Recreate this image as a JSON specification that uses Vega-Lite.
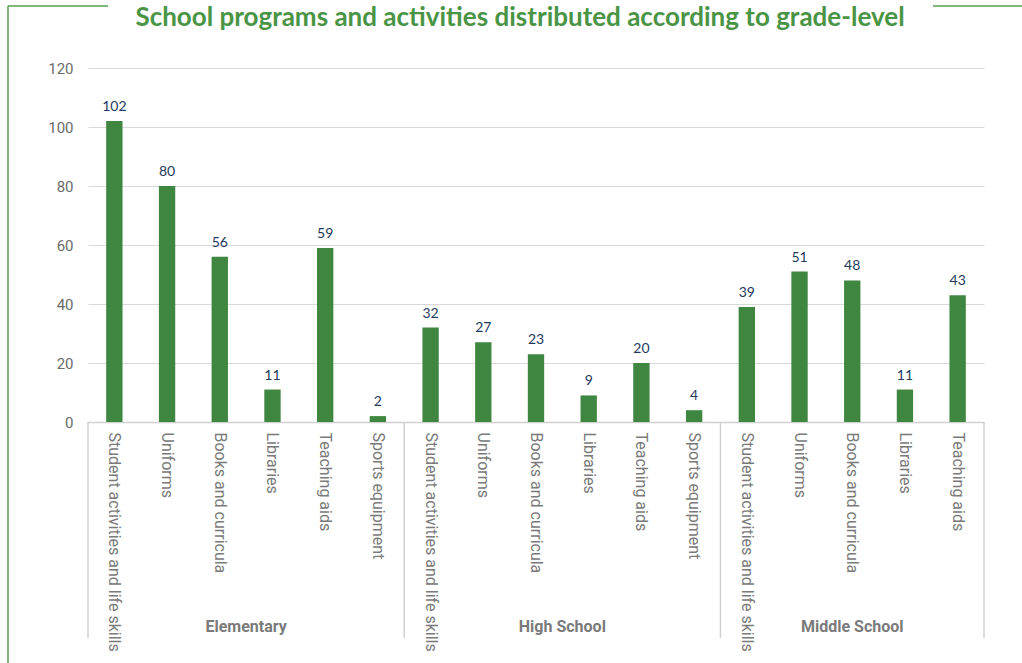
{
  "$schema": "https://vega.github.io/schema/vega-lite/v6.json",
  "autosize": {"type": "none"},
  "padding": {"left": 88, "top": 68, "right": 38, "bottom": 241},
  "width": 896,
  "height": 354,
  "title": {
    "text": "School programs and activities distributed according to grade-level",
    "font": "Lato",
    "fontSize": 26,
    "fontWeight": "bold",
    "color": "#4a9446",
    "anchor": "middle",
    "frame": "group",
    "baseline": "alphabetic",
    "dx": -16,
    "offset": -47
  },
  "config": {
    "view": {"stroke": null},
    "font": "Roboto"
  },
  "datasets": {
    "bars": [
      {"key": "Elementary|Student activities and life skills", "value": 102},
      {"key": "Elementary|Uniforms", "value": 80},
      {"key": "Elementary|Books and curricula", "value": 56},
      {"key": "Elementary|Libraries", "value": 11},
      {"key": "Elementary|Teaching aids", "value": 59},
      {"key": "Elementary|Sports equipment", "value": 2},
      {"key": "High School|Student activities and life skills", "value": 32},
      {"key": "High School|Uniforms", "value": 27},
      {"key": "High School|Books and curricula", "value": 23},
      {"key": "High School|Libraries", "value": 9},
      {"key": "High School|Teaching aids", "value": 20},
      {"key": "High School|Sports equipment", "value": 4},
      {"key": "Middle School|Student activities and life skills", "value": 39},
      {"key": "Middle School|Uniforms", "value": 51},
      {"key": "Middle School|Books and curricula", "value": 48},
      {"key": "Middle School|Libraries", "value": 11},
      {"key": "Middle School|Teaching aids", "value": 43}
    ],
    "groups6": [
      {"group": "Elementary", "key": "Elementary|Libraries"},
      {"group": "High School", "key": "High School|Libraries"}
    ],
    "groups5": [
      {"group": "Middle School", "key": "Middle School|Books and curricula"}
    ],
    "sepLeft": [
      {"key": "Elementary|Student activities and life skills"},
      {"key": "High School|Student activities and life skills"},
      {"key": "Middle School|Student activities and life skills"}
    ],
    "sepRight": [
      {"key": "Middle School|Teaching aids"}
    ],
    "frame": [
      {"part": "frame"}
    ]
  },
  "layer": [
    {
      "data": {"name": "bars"},
      "mark": {"type": "bar", "color": "#3f8640", "width": {"band": 0.31}},
      "encoding": {
        "x": {
          "field": "key",
          "type": "nominal",
          "sort": null,
          "scale": {"paddingInner": 0, "paddingOuter": 0},
          "axis": {
            "title": null,
            "labelExpr": "split(datum.label, '|')[1]",
            "labelAngle": 90,
            "labelFont": "Roboto",
            "labelFontSize": 16,
            "labelColor": "#7a7a7a",
            "labelPadding": 10,
            "labelLimit": 400,
            "ticks": false,
            "domainColor": "#d0d0d0",
            "domainWidth": 1.5
          }
        },
        "y": {
          "field": "value",
          "type": "quantitative",
          "scale": {"domain": [0, 120], "nice": false},
          "axis": {
            "title": null,
            "values": [0, 20, 40, 60, 80, 100, 120],
            "domain": false,
            "ticks": false,
            "labelPadding": 15,
            "labelFont": "Roboto",
            "labelFontSize": 15,
            "labelColor": "#6b6b6b",
            "gridColor": "#d9d9d9",
            "gridWidth": 1
          }
        }
      }
    },
    {
      "data": {"name": "bars"},
      "mark": {"type": "text", "font": "Lato", "fontSize": 14, "color": "#1f3a5c", "baseline": "bottom", "dy": -7},
      "encoding": {
        "x": {"field": "key", "type": "nominal", "sort": null},
        "y": {"field": "value", "type": "quantitative"},
        "text": {"field": "value", "type": "quantitative"}
      }
    },
    {
      "data": {"name": "groups6"},
      "mark": {"type": "text", "font": "Roboto", "fontSize": 16, "fontWeight": "bold", "color": "#7a7a7a", "baseline": "middle"},
      "encoding": {
        "x": {"field": "key", "type": "nominal", "sort": null, "bandPosition": 0},
        "y": {"datum": -69.5, "type": "quantitative"},
        "text": {"field": "group"}
      }
    },
    {
      "data": {"name": "groups5"},
      "mark": {"type": "text", "font": "Roboto", "fontSize": 16, "fontWeight": "bold", "color": "#7a7a7a", "baseline": "middle"},
      "encoding": {
        "x": {"field": "key", "type": "nominal", "sort": null, "bandPosition": 0.5},
        "y": {"datum": -69.5, "type": "quantitative"},
        "text": {"field": "group"}
      }
    },
    {
      "data": {"name": "sepLeft"},
      "mark": {"type": "rule", "color": "#d0d0d0", "strokeWidth": 1.5},
      "encoding": {
        "x": {"field": "key", "type": "nominal", "sort": null, "bandPosition": 0},
        "y": {"datum": 0, "type": "quantitative"},
        "y2": {"datum": -73.2}
      }
    },
    {
      "data": {"name": "sepRight"},
      "mark": {"type": "rule", "color": "#d0d0d0", "strokeWidth": 1.5},
      "encoding": {
        "x": {"field": "key", "type": "nominal", "sort": null, "bandPosition": 1},
        "y": {"datum": 0, "type": "quantitative"},
        "y2": {"datum": -73.2}
      }
    },
    {
      "data": {"name": "frame"},
      "mark": {"type": "rule", "color": "#5a9e50", "strokeWidth": 1.5},
      "encoding": {
        "x": {"value": -80},
        "y": {"value": -62},
        "y2": {"value": 600}
      }
    },
    {
      "data": {"name": "frame"},
      "mark": {"type": "rule", "color": "#5a9e50", "strokeWidth": 1.5},
      "encoding": {
        "x": {"value": -80},
        "x2": {"value": 20},
        "y": {"value": -62}
      }
    },
    {
      "data": {"name": "frame"},
      "mark": {"type": "rule", "color": "#5a9e50", "strokeWidth": 1.5},
      "encoding": {
        "x": {"value": 845},
        "x2": {"value": 940},
        "y": {"value": -62}
      }
    }
  ]
}
